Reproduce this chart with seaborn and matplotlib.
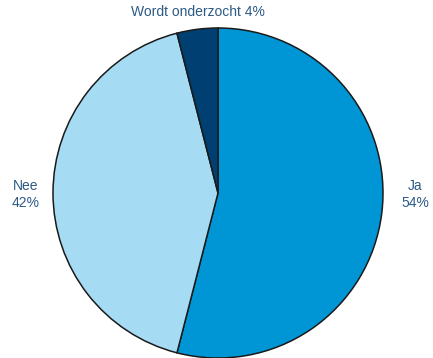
import matplotlib
matplotlib.use("Agg")
import matplotlib.pyplot as plt
import seaborn as sns

sns.set_theme(style="white")
plt.rcParams['font.family'] = ['Liberation Sans', 'DejaVu Sans']

categories = ["Ja", "Nee", "Wordt onderzocht"]
values = [54, 42, 4]
colors = ["#0096D6", "#A6DBF4", "#003F72"]
text_color = "#2B5A86"

fig = plt.figure(figsize=(4.33, 3.58), dpi=100)
ax = fig.add_axes([53/433, 0/358, 330/433, 330/358])
ax.pie(values, colors=colors, startangle=90, counterclock=False, radius=1,
       wedgeprops=dict(edgecolor="#1a1a1a", linewidth=1.1))
ax.set_xlim(-1, 1)
ax.set_ylim(-1, 1)
ax.set_aspect("equal")
ax.axis("off")

ax.text(1.195, -0.01, f"{categories[0]}\n{values[0]}%", ha="center", va="center",
        color=text_color, fontsize=10, clip_on=False, linespacing=1.3)
ax.text(-1.165, -0.01, f"{categories[1]}\n{values[1]}%", ha="center", va="center",
        color=text_color, fontsize=10, clip_on=False, linespacing=1.3)
ax.text(-0.12, 1.10, f"{categories[2]} {values[2]}%", ha="center", va="center",
        color=text_color, fontsize=10, clip_on=False)

fig.savefig("out.png", dpi=100)
